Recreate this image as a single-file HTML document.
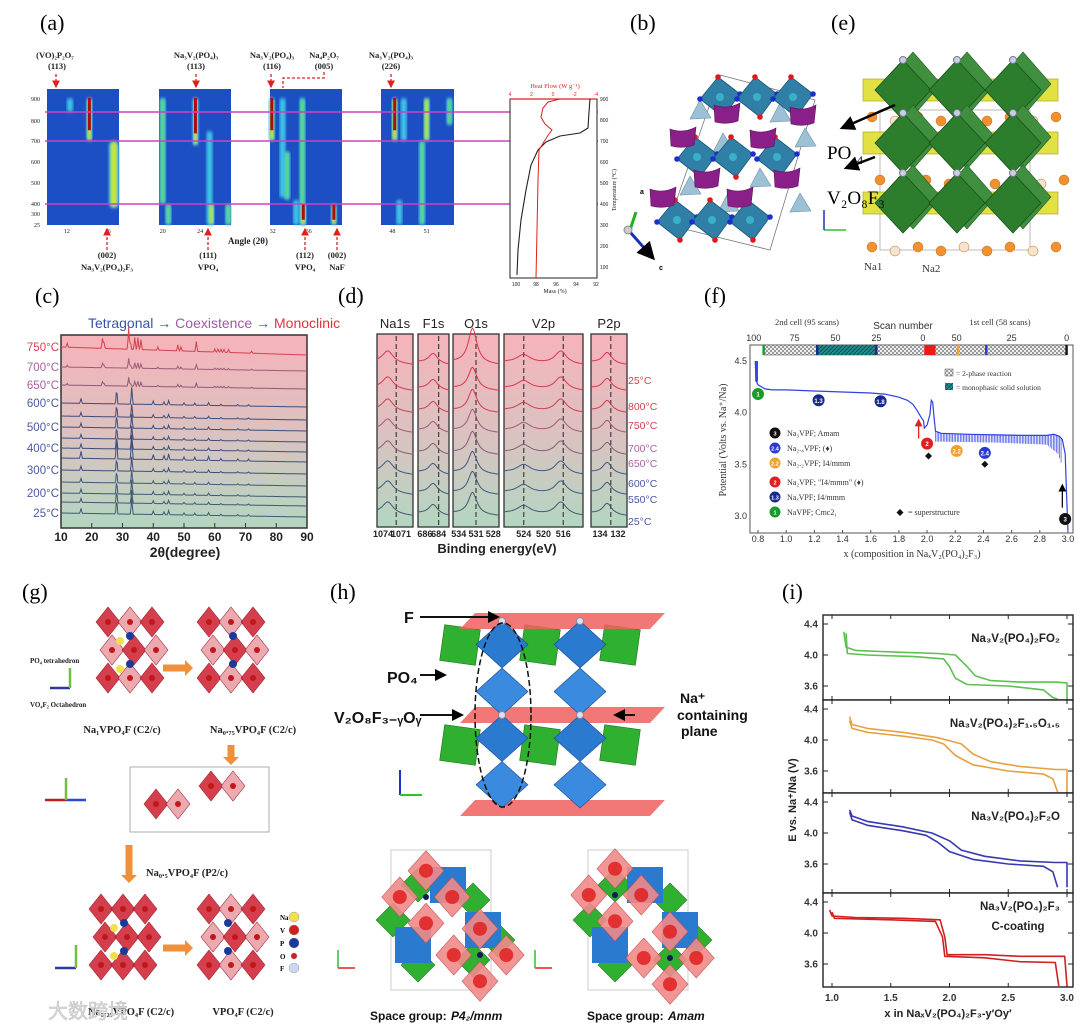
<!DOCTYPE html>
<html><head><meta charset="utf-8"><style>
html,body{margin:0;padding:0;background:#fff;}
svg{display:block;font-family:"Liberation Sans",sans-serif;}
.ser{font-family:"Liberation Serif",serif;}
</style></head><body>
<svg id="fig" width="1080" height="1027" viewBox="0 0 1080 1027" xmlns="http://www.w3.org/2000/svg">
<defs>
<linearGradient id="gcd" x1="0" y1="0" x2="0" y2="1"><stop offset="0" stop-color="#f6b3ba"/><stop offset="0.5" stop-color="#dcc1c0"/><stop offset="1" stop-color="#b3d6c1"/></linearGradient>
<filter id="blur2"><feGaussianBlur stdDeviation="1.6"/></filter>
<pattern id="chk" width="4" height="4" patternUnits="userSpaceOnUse"><rect width="4" height="4" fill="#eee"/><rect width="2" height="2" fill="#999"/><rect x="2" y="2" width="2" height="2" fill="#999"/></pattern>
<pattern id="hatch" width="4" height="4" patternUnits="userSpaceOnUse"><rect width="4" height="4" fill="#1f8a8a"/><path d="M0 4L4 0" stroke="#0b4f55" stroke-width="1"/></pattern>
<marker id="ah" markerWidth="6" markerHeight="6" refX="5" refY="3" orient="auto"><path d="M0 0L6 3L0 6z" fill="#000"/></marker>
<marker id="ahr" markerWidth="6" markerHeight="6" refX="5" refY="3" orient="auto"><path d="M0 0L6 3L0 6z" fill="#e02020"/></marker>
</defs>

<text class="ser" x="40" y="30" font-size="22">(a)</text>
<text class="ser" x="630" y="30" font-size="22">(b)</text>
<text class="ser" x="831" y="30" font-size="22">(e)</text>
<text class="ser" x="35" y="303" font-size="22">(c)</text>
<text class="ser" x="338" y="303" font-size="22">(d)</text>
<text class="ser" x="704" y="303" font-size="22">(f)</text>
<text class="ser" x="22" y="599" font-size="22">(g)</text>
<text class="ser" x="330" y="599" font-size="22">(h)</text>
<text class="ser" x="782" y="599" font-size="22">(i)</text>

<g id="pa"></g>
<g id="pb"></g>
<g id="pe"></g>
<g id="pc"></g>
<g id="pd"></g>
<g id="pf"></g>
<g id="pg"></g>
<g id="ph"></g>
<g id="pi"></g>

<g class="ser" font-size="8.5" font-weight="bold" fill="#222" text-anchor="middle">
<text x="55" y="58">(VO)₂P₂O₇</text><text x="57" y="69">(113)</text>
<text x="196" y="58">Na₃V₂(PO₄)₃</text><text x="196" y="69">(113)</text>
<text x="272" y="58">Na₃V₂(PO₄)₃</text><text x="272" y="69">(116)</text>
<text x="324" y="58">Na₄P₂O₇</text><text x="324" y="69">(005)</text>
<text x="391" y="58">Na₃V₂(PO₄)₃</text><text x="391" y="69">(226)</text>
<text x="107" y="258">(002)</text><text x="107" y="270">Na₃V₂(PO₄)₂F₃</text>
<text x="208" y="258">(111)</text><text x="208" y="270">VPO₄</text>
<text x="305" y="258">(112)</text><text x="305" y="270">VPO₄</text>
<text x="337" y="258">(002)</text><text x="337" y="270">NaF</text>
<text x="248" y="244" font-size="9">Angle (2θ)</text>
</g>

<text x="88" y="328" font-size="14" fill="#3a55a5">Tetragonal <tspan fill="#3a55a5">→</tspan> <tspan fill="#a05aa8">Coexistence</tspan> <tspan fill="#3a55a5">→</tspan> <tspan fill="#e03040">Monoclinic</tspan></text>
<text x="185" y="557" font-size="14" font-weight="bold" text-anchor="middle" fill="#222">2θ(degree)</text>
<text x="497" y="553" font-size="13" font-weight="bold" text-anchor="middle" fill="#222">Binding energy(eV)</text>

<text x="48" y="1018" font-size="20" fill="#ddd" stroke="#bbb" stroke-width="0.5" font-family="'Liberation Sans','Noto Sans CJK SC',sans-serif">大数跨境</text>
</svg>

<script>
var NS='http://www.w3.org/2000/svg';
function mk(tag, at, par){var e=document.createElementNS(NS,tag);for(var k in at)e.setAttribute(k,at[k]);par.appendChild(e);return e;}
function tx(s,x,y,at,par){var e=mk('text',Object.assign({x:x,y:y},at||{}),par);e.textContent=s;return e;}
function G(id){return document.getElementById(id);}

/* ================= (a) heatmaps ================= */
var aTempLabels=[900,800,700,600,500,400,300,25];
var aTempPix=[99,121,141,162,183,204,214,225];
var aPanels=[[47,119,10.05,17.1],[159,231,19.6,27.3],[270,342,31.7,39.7],[381,454,47,53.4]];
var aTicks=[[12,16],[20,24],[32,36],[48,51]];
var aStreakPanel=[0,0,0,1,1,1,1,1,1,2,2,2,2,2,2,2,3,3,3,3,3,3];
var aStreakAngle=[12.3,14.2,16.6,20.0,20.6,23.5,25.0,25.2,27.0,31.9,33.1,33.6,35.3,35.4,38.8,34.6,48.2,49.0,51.0,53.0,50.6,48.6];
var aStreakTmin=[840,700,360,400,25,680,25,25,25,700,430,420,25,25,25,25,700,700,700,780,25,25];
var aStreakTmax=[950,950,700,950,400,950,750,400,400,950,950,650,950,400,400,420,950,950,950,950,700,420];
var aStreakLevel=[0,3,2,1,1,3,0,2,1,3,0,1,1,3,3,0,3,0,2,1,1,0];
function aY(t){for(var i=0;i<aTempLabels.length-1;i++){var a=aTempLabels[i],b=aTempLabels[i+1];if(t<=a&&t>=b)return aTempPix[i]+(a-t)/(a-b)*(aTempPix[i+1]-aTempPix[i]);}return t>900?aTempPix[0]-(t-900)/1000*21:225;}
function aX(p,ang){var P=aPanels[p];return P[0]+(ang-P[2])/(P[3]-P[2])*(P[1]-P[0]);}
(function(){
var g=G('pa');
aPanels.forEach(function(P,i){
 var r=mk('rect',{x:P[0],y:89,width:P[1]-P[0],height:136,fill:'#1d4fc4'},g);
 
 
 aTicks[i].forEach(function(t){var l=tx(String(t),aX(i,t),233,{'font-size':6,'text-anchor':'middle',fill:'#222','class':'ser'},g);
 
 });
});
aStreakAngle.forEach(function(a,i){
 var p=aStreakPanel[i],x=aX(p,a),y1=Math.max(89,aY(aStreakTmax[i])),y2=Math.min(225,aY(aStreakTmin[i]));
 var lv=aStreakLevel[i];
 var w=lv===2&&p===0?10:6;
 var s=mk('rect',{x:x-w/2,y:y1,width:w,height:y2-y1,rx:w/2,fill:'#3fc8e8',filter:'url(#blur2)'},g);
 
 
 if(lv>=1){var s2=mk('rect',{x:x-w/3,y:y1+1,width:w*2/3,height:y2-y1-2,rx:w/3,fill:lv>=2?'#c8e838':'#5ed880',filter:'url(#blur2)'},g);
  
  }
 if(lv===3){var s3=mk('rect',{x:x-1.5,y:y1,width:3,height:(y2-y1)*0.75,fill:'#b00c0c'},g);
  
  }
});
aTempLabels.forEach(function(t,i){var l=tx(String(t),40,aTempPix[i]+2,{'font-size':6,'text-anchor':'end',fill:'#222','class':'ser'},g);
 
 });
[112,141,204].forEach(function(y){var l=mk('line',{x1:45,y1:y,x2:598,y2:y,stroke:'#d040c0','stroke-width':1.6},g);
 
 });
[[56,74,87],[196,74,87],[271,74,87],[391,74,87]].forEach(function(a){var l=mk('line',{x1:a[0],y1:a[1],x2:a[0],y2:a[2],stroke:'#e02020','stroke-width':1.3,'stroke-dasharray':'3,2','marker-end':'url(#ahr)'},g);
 
 });
[[107,250,229],[208,250,229],[305,250,229],[337,250,229]].forEach(function(a){var l=mk('line',{x1:a[0],y1:a[1],x2:a[0],y2:a[2],stroke:'#e02020','stroke-width':1.3,'stroke-dasharray':'3,2','marker-end':'url(#ahr)'},g);
 
 });
var pl=mk('polyline',{points:'324,72 324,78 283,78 283,88',fill:'none',stroke:'#e02020','stroke-width':1.3,'stroke-dasharray':'3,2'},g);


var b=mk('rect',{x:510,y:99,width:87,height:179,fill:'#fff',stroke:'#222','stroke-width':1},g);


var tp=mk('line',{x1:510,y1:99,x2:597,y2:99,stroke:'#e02020','stroke-width':1.2},g);


var t1=tx('Heat Flow (W g⁻¹)',555,88,{'font-size':6.5,'text-anchor':'middle',fill:'#e02020','class':'ser'},g);


['4','2','0','-2','-4'].forEach(function(s,i){var l=tx(s,510+i*21.5,96,{'font-size':5,'text-anchor':'middle',fill:'#e02020'},g);
 
 });
['100','98','96','94','92'].forEach(function(s,i){var l=tx(s,516+i*20,286,{'font-size':5,'text-anchor':'middle',fill:'#222'},g);
 
 });
var t2=tx('Mass (%)',555,293,{'font-size':6,'text-anchor':'middle',fill:'#222','class':'ser'},g);


[900,800,700,600,500,400,300,200,100].forEach(function(s,i){var l=tx(String(s),600,101+i*21,{'font-size':5,fill:'#222'},g);
 
 });
var t3=tx('Temperature (°C)',616,190,{'font-size':6,'text-anchor':'middle',fill:'#222',transform:'rotate(-90 616 190)','class':'ser'},g);


var bk=mk('polyline',{points:'517,275 518,250 521,220 526,190 531,165 538,150 546,142 560,136 580,133 588,128 589,112 590,99',fill:'none',stroke:'#222','stroke-width':1.1},g);


var rd=mk('polyline',{points:'536,278 537,230 538,180 539,150 545,140 549,134 552,130 545,124 541,117 543,108 548,102 560,99',fill:'none',stroke:'#e02020','stroke-width':1},g);


})();

/* ================= (b) structure ================= */
(function(){
var g=G('pb');
var oct=[[720,97],[757,97],[793,97],[697,157],[733,157],[777,157],[677,220],[712,220],[750,220]];
var purp=[[727,113],[803,115],[683,137],[763,138],[707,178],[787,178],[663,197],[740,197]];
var tet=[[700,112],[780,115],[723,145],[805,140],[690,188],[760,180],[728,205],[800,205]];
var cell=mk('polygon',{points:'720,75 815,100 770,250 668,225',fill:'none',stroke:'#778','stroke-width':0.8},g);


tet.forEach(function(p){var e=mk('polygon',{points:(p[0])+','+(p[1]-12)+' '+(p[0]+11)+','+(p[1]+6)+' '+(p[0]-10)+','+(p[1]+7),fill:'#9cc0d4',stroke:'#6a90aa','stroke-width':0.6},g);
 
 });
oct.forEach(function(p){var e=mk('polygon',{points:(p[0]-2)+','+(p[1]-20)+' '+(p[0]+20)+','+(p[1]-3)+' '+(p[0]+3)+','+(p[1]+20)+' '+(p[0]-20)+','+(p[1]+2),fill:'#2f7fa6',stroke:'#1d5877','stroke-width':0.8},g);
 
 
 var c=mk('circle',{cx:p[0],cy:p[1],r:4,fill:'#3ab0c8'},g);
 
 
 [[-2,-20],[20,-3],[3,20],[-20,2]].forEach(function(d,j){var o=mk('circle',{cx:p[0]+d[0],cy:p[1]+d[1],r:2.8,fill:j%2?'#1a2fd0':'#e01818'},g);
  
  });
});
purp.forEach(function(p){var e=mk('path',{d:'M'+(p[0]-13)+' '+(p[1]-8)+' Q'+p[0]+' '+(p[1]-3)+' '+(p[0]+13)+' '+(p[1]-10)+' L'+(p[0]+11)+' '+(p[1]+8)+' Q'+p[0]+' '+(p[1]+12)+' '+(p[0]-12)+' '+(p[1]+9)+'Z',fill:'#8a1f8a',stroke:'#5a105a','stroke-width':0.6},g);
 
 });
var ax1=mk('line',{x1:630,y1:232,x2:653,y2:258,stroke:'#1a2fc0','stroke-width':3,'marker-end':'url(#ah)'},g);


var ax2=mk('line',{x1:630,y1:230,x2:636,y2:212,stroke:'#20b020','stroke-width':3},g);


var ax0=mk('circle',{cx:628,cy:230,r:4,fill:'#ccc',stroke:'#888'},g);


var la=tx('a',640,194,{'font-size':7,'font-weight':'bold'},g);


var lc=tx('c',659,270,{'font-size':7,'font-weight':'bold'},g);


})();

/* ================= (e) structure ================= */
(function(){
var g=G('pe');
var cx=[903,957,1013],cy=[90,143,203],yx=[876,930,985,1045];
var box=mk('rect',{x:880,y:110,width:150,height:140,fill:'none',stroke:'#aaa','stroke-width':0.8},g);


[117,180,247].forEach(function(y,r){for(var i=0;i<9;i++){var x=872+i*23+(r%2)*8;var s=mk('circle',{cx:x,cy:y+(i%2)*4,r:5,fill:i%3==1?'#f4e4d0':'#f09030',stroke:'#c86810','stroke-width':0.5},g);
 
 }});
cy.forEach(function(y){yx.forEach(function(x){var e=mk('rect',{x:x-13,y:y-11,width:26,height:22,fill:'#dede30',stroke:'#a0a010','stroke-width':0.7,opacity:0.9},g);
 
 });});
cy.forEach(function(y){cx.forEach(function(x){
 var b=mk('polygon',{points:(x+10)+','+(y-38)+' '+(x+38)+','+(y-6)+' '+(x+10)+','+(y+26)+' '+(x-18)+','+(y-6),fill:'#3f8f3f',stroke:'#2a602a','stroke-width':0.6},g);
 
 
 var e=mk('polygon',{points:x+','+(y-30)+' '+(x+28)+','+y+' '+x+','+(y+30)+' '+(x-28)+','+y,fill:'#2c7d2c',stroke:'#1b4f1b','stroke-width':0.8},g);
 
 
 var f=mk('circle',{cx:x,cy:y-30,r:3.5,fill:'#c8d0e8',stroke:'#778'},g);
 
 });});
var a1=mk('line',{x1:895,y1:105,x2:842,y2:128,stroke:'#000','stroke-width':2.5,'marker-end':'url(#ah)'},g);


var a2=mk('line',{x1:875,y1:157,x2:846,y2:168,stroke:'#000','stroke-width':2.5,'marker-end':'url(#ah)'},g);


var t1=tx('PO',827,159,{'font-size':19,'class':'ser'},g);


var t1b=tx('4',857,164,{'font-size':12,'class':'ser'},g);


var t2=tx('V₂O₈F₃',827,204,{'font-size':19,'class':'ser'},g);


var n1=tx('Na1',864,270,{'font-size':11,'class':'ser',fill:'#333'},g);


var n2=tx('Na2',922,272,{'font-size':11,'class':'ser',fill:'#333'},g);


var ab=mk('line',{x1:824,y1:230,x2:846,y2:230,stroke:'#30c030','stroke-width':1.5},g);


var ac=mk('line',{x1:824,y1:230,x2:824,y2:210,stroke:'#2030c0','stroke-width':1.5},g);


})();

/* ================= (c) XRD ================= */
var cTemps=['750°C','700°C','650°C','600°C','','500°C','','400°C','','300°C','','200°C','','25°C'];
var cRowType=['m','m','m','t','t','t','t','t','t','t','t','t','t','t'];
var cTickLabels=[10,20,30,40,50,60,70,80,90];
var cMonoPeaks=[12,23.5,24,32,32.6,34,35,36,41.5,48,49,54,60,61,62,63,64.5,72];
var cMonoInt=[4,10,6,22,8,12,12,10,3,6,4,10,3,3,3,3,3,2];
var cTetPeaks=[16.5,28.1,33.0,40,43.5,45,50,53.5,58,62,67.5,71];
var cTetInt=[7,22,24,5,4,6,3,3,4,2,2,2];
var cRowScale=[1,0.45,0.4,0.7,0.55,0.6,0.55,0.6,1.0,0.6,0.55,0.6,0.55,0.7];
var cBaseY=[347,367,385,403,416,427,438,448,458,470,482,493,502,513];
var cColors=['#d8404f','#a05a78','#8c5a78','#3d4d7a','#3d4d7a','#3d4d7a','#3d4d7a','#3d4d7a','#3d4d7a','#3d4d7a','#3d5a7a','#3d5a70','#3d5a70','#3d5a70'];
function cX(t){return 61+(t-10)/80*246;}
(function(){
var g=G('pc');
var bg=mk('rect',{x:61,y:335,width:246,height:193,fill:'url(#gcd)',stroke:'#333','stroke-width':1.5},g);


cBaseY.forEach(function(by,r){
 var pk=cRowType[r]==='m'?cMonoPeaks:cTetPeaks, it=cRowType[r]==='m'?cMonoInt:cTetInt;
 var pts=[];
 for(var t=10;t<=90;t+=0.25){var y=by+(t-10)/80*(r===0?8:4);
  pk.forEach(function(p,k){var d=Math.abs(t-p);if(d<0.4)y-=it[k]*cRowScale[r]*(1-d/0.4);});
  pts.push(cX(t).toFixed(1)+','+y.toFixed(1));}
 var l=mk('polyline',{points:pts.join(' '),fill:'none',stroke:cColors[r],'stroke-width':1},g);
 
 
 if(cTemps[r]){var lb=tx(cTemps[r],59,cBaseY[r]+4,{'font-size':11.5,'text-anchor':'end',fill:r===0?'#d84050':r<3?'#a860a0':'#4a5aa0'},g);
  
  }
});
cTickLabels.forEach(function(v){var x=cX(v);
 var tk=mk('line',{x1:x,y1:528,x2:x,y2:523,stroke:'#333'},g);
 
 
 var l=tx(String(v),x,541,{'font-size':12,'font-weight':'bold','text-anchor':'middle',fill:'#222'},g);
 
 });
})();

/* ================= (d) XPS ================= */
var dPanelNames=['Na1s','F1s','O1s','V2p','P2p'];
var dPanelX=[[377,413],[418,449],[453,499],[504,583],[591,627]];
var dPanelE=[[1075,1069],[687,682.5],[535,527],[528,512],[135,131]];
var dPeakE=[[1073.2],[684.8],[531.6],[524,516.5],[133.2]];
var dPeakW=[[1.1],[0.8],[0.9],[1.6,1.4],[0.6]];
var dPeakH=[[12],[10],[22],[8,13],[11]];
var dDash=[[1071.8],[684],[531],[524,516],[132.8]];
var dTickLabels=[['1074','1071'],['686','684'],['534','531','528'],['524','520','516'],['134','132']];
var dTickE=[[1074,1071],[686,684],[534,531,528],[524,520,516],[134,132]];
var dTemps=['25°C','800°C','750°C','700°C','650°C','600°C','550°C','25°C'];
var dTempY=[380,406,425,448,463,483,499,521];
var dBaseY=[362,388,410,430,452,472,492,513];
var dColors=['#d83848','#d83848','#c84050','#a05a78','#8a5a78','#3d5a80','#3d5a7a','#3d5a70'];
var dLabelColors=['#d84050','#d84050','#d84050','#b060a8','#b060a8','#4a5aa0','#4a5aa0','#4a5aa0'];
(function(){
var g=G('pd');
dPanelX.forEach(function(P,i){
 var E=dPanelE[i];function ex(e){return P[0]+(E[0]-e)/(E[0]-E[1])*(P[1]-P[0]);}
 var bg=mk('rect',{x:P[0],y:334,width:P[1]-P[0],height:193,fill:'url(#gcd)',stroke:'#333','stroke-width':1.3},g);
 
 
 var tl=tx(dPanelNames[i],(P[0]+P[1])/2,328,{'font-size':13,'text-anchor':'middle',fill:'#222'},g);
 
 
 dDash[i].forEach(function(e){var l=mk('line',{x1:ex(e),y1:336,x2:ex(e),y2:525,stroke:'#333','stroke-width':1.1,'stroke-dasharray':'5,3'},g);
  
  });
 dBaseY.forEach(function(by,r){
  var pts=[];
  for(var s=0;s<=40;s++){var e=E[0]+(E[1]-E[0])*s/40;var y=by+(s/40)*3;
   dPeakE[i].forEach(function(pe,k){var d=(e-pe)/dPeakW[i][k];y-=dPeakH[i][k]*(i===2&&r===0?1.6:1)/(1+d*d);});
   pts.push(ex(e).toFixed(1)+','+y.toFixed(1));}
  var l=mk('polyline',{points:pts.join(' '),fill:'none',stroke:dColors[r],'stroke-width':1},g);
  
  });
 dTickE[i].forEach(function(e,k){var l=tx(dTickLabels[i][k],ex(e),537,{'font-size':9,'font-weight':'bold','text-anchor':'middle',fill:'#222'},g);
  
  });
});
dTemps.forEach(function(t,r){var l=tx(t,628,dTempY[r]+4,{'font-size':10.5,fill:dLabelColors[r]},g);
 
 });
})();

/* ================= (f) potential ================= */
var fX=[0.78,0.785,0.79,0.80,0.85,0.9,1.0,1.2,1.4,1.6,1.7,1.8,1.86,1.9,1.93,1.96,1.975,1.98,2.0,2.02,2.03,2.04,2.05,2.06,2.1,2.3,2.5,2.7,2.85,2.9,2.94,2.96,2.98,2.99,3.0];
var fV=[4.5,4.35,4.3,4.27,4.23,4.22,4.22,4.21,4.2,4.19,4.18,4.15,4.12,4.08,4.02,3.95,3.92,3.85,3.88,3.98,4.12,4.1,3.95,3.82,3.8,3.79,3.785,3.78,3.78,3.79,3.77,3.74,3.6,3.2,2.85];
var fRelaxX=[2.06,2.5,2.85,2.93,2.96];
var fRelaxV=[3.72,3.71,3.69,3.6,3.48];
var fXTicks=[0.8,1.0,1.2,1.4,1.6,1.8,2.0,2.2,2.4,2.6,2.8,3.0];
var fYTicks=[3.0,3.5,4.0,4.5];
var fScanLabels=['100','75','50','25','0','50','25','0'];
var fScanX=[0.77,1.06,1.35,1.64,1.97,2.21,2.6,2.99];
var fMarkerX=[0.8,1.23,1.67,2.0,2.21,2.41,2.98];
var fMarkerV=[4.18,4.12,4.11,3.7,3.63,3.61,2.97];
var fMarkerText=['1','1.3','1.8','2','2.2','2.4','3'];
var fMarkerColor=['#1a9a2a','#1a2a8a','#1a2a8a','#e02020','#f0a030','#2a3ad0','#111'];
var fDiamondX=[2.01,2.41];
var fDiamondV=[3.58,3.5];
function fpx(x){return 758+(x-0.8)*140.9;}
function fpy(v){return 361+(4.5-v)*103.3;}
(function(){
var g=G('pf');
var box=mk('rect',{x:750,y:345,width:323,height:188,fill:'#fff',stroke:'#555','stroke-width':1},g);


var bar=mk('rect',{x:fpx(0.84),y:345,width:fpx(2.99)-fpx(0.84),height:10,fill:'url(#chk)',stroke:'#555','stroke-width':0.6},g);


var teal=mk('rect',{x:fpx(1.22),y:345,width:fpx(1.64)-fpx(1.22),height:10,fill:'url(#hatch)'},g);


var red=mk('rect',{x:fpx(1.98),y:345,width:fpx(2.06)-fpx(1.98),height:10,fill:'#ee1a1a'},g);


[[0.84,'#1a9a2a'],[1.22,'#1a2a8a'],[1.64,'#1a2a8a'],[2.22,'#f0a030'],[2.42,'#2a3ad0'],[2.99,'#111']].forEach(function(m){var r=mk('rect',{x:fpx(m[0])-1.2,y:345,width:2.4,height:10,fill:m[1]},g);
 
 });
for(var x=2.06;x<=2.955;x+=0.011){var v0=3.78,vb=3.72;
 for(var i=0;i<fX.length-1;i++)if(x>=fX[i]&&x<=fX[i+1])v0=fV[i]+(fV[i+1]-fV[i])*(x-fX[i])/(fX[i+1]-fX[i]);
 for(var j=0;j<fRelaxX.length-1;j++)if(x>=fRelaxX[j]&&x<=fRelaxX[j+1])vb=fRelaxV[j]+(fRelaxV[j+1]-fRelaxV[j])*(x-fRelaxX[j])/(fRelaxX[j+1]-fRelaxX[j]);
 var l=mk('line',{x1:fpx(x),y1:fpy(v0),x2:fpx(x),y2:fpy(vb),stroke:'#3a4ae0','stroke-width':0.7},g);
 
 }
var spk=mk('rect',{x:fpx(0.78),y:fpy(4.5),width:fpx(0.80)-fpx(0.78),height:fpy(4.3)-fpy(4.5),fill:'#3a4ae0'},g);


var pts=fX.map(function(x,i){return fpx(x).toFixed(1)+','+fpy(fV[i]).toFixed(1);}).join(' ');
var c=mk('polyline',{points:pts,fill:'none',stroke:'#3040e0','stroke-width':1.2},g);


fXTicks.forEach(function(v){var l=tx(v.toFixed(1),fpx(v),542,{'font-size':9,'text-anchor':'middle',fill:'#333'},g);
 
 
 var t=mk('line',{x1:fpx(v),y1:533,x2:fpx(v),y2:530,stroke:'#555'},g);
 
 });
fYTicks.forEach(function(v){var l=tx(v.toFixed(1),747,fpy(v)+3,{'font-size':9,'text-anchor':'end',fill:'#333'},g);
 
 });
fScanLabels.forEach(function(s,i){var l=tx(s,fpx(fScanX[i]),341,{'font-size':9,'text-anchor':'middle',fill:'#333'},g);
 
 });
var sn=tx('Scan number',903,329,{'font-size':10,'text-anchor':'middle',fill:'#333'},g);


var c2=tx('2nd cell (95 scans)',807,325,{'font-size':8.5,'text-anchor':'middle',fill:'#333','class':'ser'},g);


var c1=tx('1st cell (58 scans)',1000,325,{'font-size':8.5,'text-anchor':'middle',fill:'#333','class':'ser'},g);


fMarkerX.forEach(function(x,i){var cc=mk('circle',{cx:fpx(x),cy:fpy(fMarkerV[i]),r:6,fill:fMarkerColor[i]},g);
 
 
 var t=tx(fMarkerText[i],fpx(x),fpy(fMarkerV[i])+2.5,{'font-size':6,'text-anchor':'middle',fill:'#fff','font-weight':'bold'},g);
 
 });
fDiamondX.forEach(function(x,i){var X=fpx(x),Y=fpy(fDiamondV[i]);var d=mk('polygon',{points:X+','+(Y-3.5)+' '+(X+3.5)+','+Y+' '+X+','+(Y+3.5)+' '+(X-3.5)+','+Y,fill:'#111'},g);
 
 });
var ar=mk('line',{x1:fpx(1.94),y1:fpy(3.75),x2:fpx(1.94),y2:fpy(3.93),stroke:'#e02020','stroke-width':1.3,'marker-end':'url(#ahr)'},g);


var ab=mk('line',{x1:fpx(2.96),y1:fpy(3.08),x2:fpx(2.96),y2:fpy(3.3),stroke:'#111','stroke-width':1.3,'marker-end':'url(#ah)'},g);


var lg1=mk('rect',{x:945,y:369,width:8,height:7,fill:'url(#chk)',stroke:'#555','stroke-width':0.5},g);


var lt1=tx('= 2-phase reaction',956,376,{'font-size':7.5,fill:'#333','class':'ser'},g);


var lg2=mk('rect',{x:945,y:383,width:8,height:7,fill:'url(#hatch)'},g);


var lt2=tx('= monophasic solid solution',956,390,{'font-size':7.5,fill:'#333','class':'ser'},g);


var legT=['Na₃VPF; Amam','Na₂.₄VPF; (♦)','Na₂.₂VPF; I4/mmm','Na₂VPF; "I4/mmm" (♦)','NaₓVPF; I4/mmm','NaVPF; Cmc2₁'];
var legC=['#111','#2a3ad0','#f0a030','#e02020','#1a2a8a','#1a9a2a'];
var legN=['3','2.4','2.2','2','1.3','1'];
var legY=[433,448,463,482,497,512];
legT.forEach(function(s,i){var cc=mk('circle',{cx:775,cy:legY[i],r:5.5,fill:legC[i]},g);
 
 
 var n=tx(legN[i],775,legY[i]+2.3,{'font-size':5.5,'text-anchor':'middle',fill:'#fff','font-weight':'bold'},g);
 
 
 var t=tx(s,787,legY[i]+3,{'font-size':8,fill:'#333','class':'ser'},g);
 
 });
var sd=mk('polygon',{points:'900,509 903.5,512.5 900,516 896.5,512.5',fill:'#111'},g);


var st=tx('= superstructure',908,515,{'font-size':8,fill:'#333','class':'ser'},g);


var xt=tx('x (composition in NaₓV₂(PO₄)₂F₃)',912,557,{'font-size':10,'text-anchor':'middle',fill:'#333','class':'ser'},g);


var yt=tx('Potential (Volts vs. Na⁺/Na)',726,440,{'font-size':10,'text-anchor':'middle',fill:'#333','class':'ser',transform:'rotate(-90 726 440)'},g);


})();

/* ================= (i) charge curves ================= */
var iNames=['Na₃V₂(PO₄)₂FO₂','Na₃V₂(PO₄)₂F₁.₅O₁.₅','Na₃V₂(PO₄)₂F₂O','Na₃V₂(PO₄)₂F₃'];
var iColors=['#5cc050','#e8a040','#3838b0','#d02020'];
var iTops=[615,700,793,893];
var iUpX=[[1.1,1.12,1.2,1.5,1.9,2.05,2.15,2.22,2.35,2.6,2.9,3.0,3.0],[1.15,1.17,1.3,1.6,1.9,2.1,2.2,2.35,2.6,2.9,3.0,3.0],[1.15,1.17,1.3,1.6,1.85,2.0,2.1,2.3,2.6,2.9,3.0,3.0],[0.98,1.0,1.2,1.6,1.92,1.96,1.98,2.3,2.6,2.98,3.0]];
var iUpV=[[4.3,4.1,4.06,4.04,4.02,4.0,3.85,3.73,3.67,3.65,3.65,3.64,3.3],[4.3,4.2,4.15,4.1,4.03,3.95,3.82,3.72,3.66,3.62,3.62,3.3],[4.3,4.22,4.15,4.08,4.0,3.9,3.78,3.7,3.64,3.62,3.62,3.3],[4.3,4.22,4.2,4.19,4.17,3.95,3.72,3.72,3.7,3.7,3.3]];
var iLoX=[[1.12,1.13,1.3,1.7,1.95,2.0,2.05,2.15,2.5,2.8,2.88,2.92],[1.15,1.17,1.3,1.6,1.85,1.95,2.05,2.2,2.5,2.8,2.88,2.92],[1.15,1.17,1.3,1.6,1.8,1.9,2.0,2.2,2.5,2.8,2.88,2.92],[1.0,1.02,1.5,1.88,1.94,1.96,2.3,2.6,2.9,2.93]];
var iLoV=[[4.28,4.02,4.0,3.98,3.95,3.85,3.7,3.62,3.6,3.55,3.45,3.3],[4.25,4.15,4.1,4.05,4.0,3.95,3.8,3.68,3.6,3.56,3.5,3.3],[4.27,4.17,4.1,4.03,3.97,3.88,3.76,3.66,3.6,3.57,3.5,3.3],[4.27,4.19,4.17,4.15,3.95,3.7,3.68,3.63,3.62,3.3]];
var iYTicks=[4.4,4.0,3.6];
var iXTicks=[1.0,1.5,2.0,2.5,3.0];
function ipx(x){return 832+(x-1)*117.5;}
function ipy(p,v){return iTops[p]+9+(4.4-v)*77.5;}
(function(){
var g=G('pi');
iTops.forEach(function(t,p){
 var h=(p<3?iTops[p+1]:987)-t;
 var r=mk('rect',{x:823,y:t,width:250,height:h,fill:'#fff',stroke:'#222','stroke-width':1.4},g);
 
 
 iXTicks.forEach(function(v){var a=mk('line',{x1:ipx(v),y1:t,x2:ipx(v),y2:t+4,stroke:'#222'},g);
  
  
  var b=mk('line',{x1:ipx(v),y1:t+h,x2:ipx(v),y2:t+h-4,stroke:'#222'},g);
  
  });
 iYTicks.forEach(function(v){var y=ipy(p,v);
  var a=mk('line',{x1:823,y1:y,x2:828,y2:y,stroke:'#222'},g);
  
  
  var b=mk('line',{x1:1073,y1:y,x2:1068,y2:y,stroke:'#222'},g);
  
  
  var l=tx(v.toFixed(1),818,y+3.5,{'font-size':10,'font-weight':'bold','text-anchor':'end',fill:'#333'},g);
  
  });
 [[iUpX[p],iUpV[p]],[iLoX[p],iLoV[p]]].forEach(function(s,k){
  var pts=s[0].map(function(x,i){return ipx(x).toFixed(1)+','+Math.min(ipy(p,s[1][i]),t+h-1).toFixed(1);}).join(' ');
  var c=mk('polyline',{points:pts,fill:'none',stroke:iColors[p],'stroke-width':1.6,'stroke-linejoin':'round'},g);
  
  });
 var n=tx(iNames[p],1060,p===3?t+17:t+27,{'font-size':11.5,'font-weight':'bold','text-anchor':'end',fill:'#222'},g);
 
 
});
var cc=tx('C-coating',1018,930,{'font-size':11.5,'font-weight':'bold','text-anchor':'middle',fill:'#222'},g);


iXTicks.forEach(function(v){var l=tx(v.toFixed(1),ipx(v),1001,{'font-size':10,'font-weight':'bold','text-anchor':'middle',fill:'#333'},g);
 
 });
var xt=tx('x in NaₓV₂(PO₄)₂F₃-y′Oy′',948,1017,{'font-size':11,'font-weight':'bold','text-anchor':'middle',fill:'#222'},g);


var yt=tx('E vs. Na⁺/Na (V)',796,800,{'font-size':11,'font-weight':'bold','text-anchor':'middle',fill:'#222',transform:'rotate(-90 796 800)'},g);


})();

/* ================= (g) structures ================= */
function cluster(g,x0,y0,w,h,light,withNa){
 var cols=Math.round(w/22),rows=Math.round(h/28);
 for(var r=0;r<rows;r++)for(var c=0;c<cols;c++){
  var x=x0+c*22+11+(r%2)*4,y=y0+r*28+14;
  var d=mk('polygon',{points:x+','+(y-15)+' '+(x+12)+','+y+' '+x+','+(y+15)+' '+(x-12)+','+y,fill:(r+c)%2&&light?'#eca0a8':'#d02a3a',stroke:'#901020','stroke-width':0.6,opacity:0.9},g);
  
  
  var a=mk('circle',{cx:x,cy:y,r:3,fill:'#c01818'},g);
  
  
 }
 for(var r2=1;r2<rows;r2++){var p=mk('circle',{cx:x0+w/2,cy:y0+r2*28,r:4,fill:'#1a3a9a'},g);
  
  
  if(withNa){var n=mk('circle',{cx:x0+w/2-10,cy:y0+r2*28+5,r:4,fill:'#f0e050'},g);
   
   }}
}
function oarrow(g,x1,y1,x2,y2){var l=mk('line',{x1:x1,y1:y1,x2:x2,y2:y2,stroke:'#f0903a','stroke-width':7},g);
 
 
 var dx=x2-x1,dy=y2-y1,L=Math.sqrt(dx*dx+dy*dy),ux=dx/L,uy=dy/L;
 var h=mk('polygon',{points:(x2+ux*8)+','+(y2+uy*8)+' '+(x2-uy*8)+','+(y2+ux*8)+' '+(x2+uy*8)+','+(y2-ux*8),fill:'#f0903a'},g);
 
 }
(function(){
var g=G('pg');
cluster(g,97,608,66,86,true,true);
cluster(g,198,608,70,86,true,false);
oarrow(g,163,668,185,668);
var box=mk('rect',{x:130,y:767,width:139,height:65,fill:'#fff',stroke:'#999','stroke-width':0.8},g);


cluster(g,145,790,44,30,true,true);
cluster(g,200,772,44,30,true,true);
oarrow(g,231,745,231,757);
oarrow(g,129,845,129,875);
cluster(g,90,895,68,92,false,true);
cluster(g,198,895,60,92,true,false);
oarrow(g,163,948,185,948);
var T=[['PO₄ tetrahedron',30,663,7],['VO₄F₂ Octahedron',30,707,7],['Na₁VPO₄F (C2/c)',122,733,10.5],['Na₀.₇₅VPO₄F (C2/c)',253,733,10.5],['Na₀.₅VPO₄F (P2/c)',146,876,10.5],['Na₀.₂₅VPO₄F (C2/c)',131,1015,10.5],['VPO₄F (C2/c)',243,1015,10.5]];
T.forEach(function(t,i){var e=tx(t[0],t[1],t[2],{'font-size':t[3],'font-weight':'bold','class':'ser','text-anchor':(i<2||i==4)?'start':'middle',fill:'#222'},g);
 
 });
var LN=['Na','V','P','O','F'],LC=['#f0e050','#d02020','#1a3a9a','#d02020','#c8d8f0'],LY=[917,930,943,956,968];
LN.forEach(function(n,i){var c=mk('circle',{cx:294,cy:LY[i],r:i==3?3:5,fill:LC[i],stroke:'#888','stroke-width':0.4},g);
 
 
 var t=tx(n,280,LY[i]+3,{'font-size':7,'class':'ser','font-weight':'bold'},g);
 
 });
[[70,688,50,688,'#2a3aa0'],[70,688,70,668,'#70c040'],[66,800,45,800,'#c02020'],[66,800,86,800,'#2a4ad0'],[66,800,66,778,'#70c040'],[76,968,55,968,'#2a3aa0'],[76,968,76,945,'#70c040']].forEach(function(a){var l=mk('line',{x1:a[0],y1:a[1],x2:a[2],y2:a[3],stroke:a[4],'stroke-width':2.5},g);
 
 });
})();

/* ================= (h) structures ================= */
(function(){
var g=G('ph');
var planes=[613,707,800];
var octX=[502,580];
function plane(y){var p=mk('polygon',{points:'460,'+(y+16)+' 650,'+(y+16)+' 665,'+y+' 475,'+y,fill:'#f06060',opacity:0.85},g);
 
 }
[[460,645],[540,645],[620,645],[460,745],[540,745],[620,745]].forEach(function(c){var r=mk('rect',{x:c[0]-18,y:c[1]-18,width:36,height:36,fill:'#30b030',stroke:'#1a701a','stroke-width':0.6,transform:'rotate(8 '+c[0]+' '+c[1]+')'},g);
 
 });
planes.forEach(function(y){plane(y);});
[0,1].forEach(function(k){var top=planes[k]+8,bot=planes[k+1]+8;octX.forEach(function(x){var mid=(top+bot)/2;
 var d1=mk('polygon',{points:x+','+top+' '+(x+26)+','+((top+mid)/2)+' '+x+','+mid+' '+(x-26)+','+((top+mid)/2),fill:'#2a7ad0',stroke:'#1a4a90','stroke-width':0.6},g);
 
 
 var d2=mk('polygon',{points:x+','+mid+' '+(x+26)+','+((bot+mid)/2)+' '+x+','+bot+' '+(x-26)+','+((bot+mid)/2),fill:'#3a8ae0',stroke:'#1a4a90','stroke-width':0.6},g);
 
 
 var f=mk('circle',{cx:x,cy:top,r:3.5,fill:'#dde',stroke:'#889'},g);
 
 });});
var el=mk('ellipse',{cx:503,cy:715,rx:28,ry:92,fill:'none',stroke:'#111','stroke-width':1.5,'stroke-dasharray':'6,3'},g);


var arrs=[[420,617,498,617],[420,675,445,675],[420,715,462,715],[635,715,615,715]];
arrs.forEach(function(a){var l=mk('line',{x1:a[0],y1:a[1],x2:a[2],y2:a[3],stroke:'#111','stroke-width':2,'marker-end':'url(#ah)'},g);
 
 });
var L=[['F',404,623,16],['PO₄',387,683,16],['V₂O₈F₃₋ᵧOᵧ',334,723,16],['Na⁺',680,703,14],['containing',677,720,14],['plane',681,736,14]];
L.forEach(function(t){var e=tx(t[0],t[1],t[2],{'font-size':t[3],'font-weight':'bold',fill:'#111'},g);
 
 });
[[400,795,400,770,'#2030d0'],[400,795,422,795,'#30c030']].forEach(function(a){var l=mk('line',{x1:a[0],y1:a[1],x2:a[2],y2:a[3],stroke:a[4],'stroke-width':2},g);
 
 });
[[363,445],[560,645]].forEach(function(S,si){
 var x0=S[0];
 var fr=mk('rect',{x:x0+28,y:850,width:100,height:140,fill:'none',stroke:'#ccc','stroke-width':1},g);
 
 
 [[x0+55,885],[x0+110,900],[x0+55,965],[x0+110,960],[x0+30,920],[x0+135,940]].forEach(function(c){var r=mk('rect',{x:c[0]-12,y:c[1]-12,width:24,height:24,fill:'#30b030',stroke:'#1a701a','stroke-width':0.5,transform:'rotate(45 '+c[0]+' '+c[1]+')'},g);
  
  });
 [[x0+85,885],[x0+50,945],[x0+120,930]].forEach(function(c){var r=mk('rect',{x:c[0]-18,y:c[1]-18,width:36,height:36,fill:'#2a7ad0'},g);
  
  });
 var ctr=si?[[x0+55,895],[x0+110,958]]:[[x0+63,897],[x0+117,955]];
 ctr.forEach(function(c){[[0,-35],[35,0],[0,35],[-35,0]].forEach(function(d){var px=c[0]+d[0]*0.75,py=c[1]+d[1]*0.75;
  var p=mk('polygon',{points:px+','+(py-20)+' '+(px+18)+','+py+' '+px+','+(py+20)+' '+(px-18)+','+py,fill:'#f08a8a',stroke:'#c05050','stroke-width':0.6,opacity:0.9},g);
  
  
  var a=mk('circle',{cx:px,cy:py,r:7,fill:'#e02020',opacity:0.85},g);
  
  });
  var k=mk('circle',{cx:c[0],cy:c[1],r:3,fill:'#111a55'},g);
  
  });
 var ax=mk('line',{x1:x0-25,y1:968,x2:x0-8,y2:968,stroke:'#e02020','stroke-width':1.5},g);
 
 
 var ay=mk('line',{x1:x0-25,y1:968,x2:x0-25,y2:950,stroke:'#30c030','stroke-width':1.5},g);
 
 
});
var s1=tx('Space group: ',370,1020,{'font-size':12,'font-weight':'bold',fill:'#111'},g);


var s1b=tx('P4₂/mnm',451,1020,{'font-size':12,'font-weight':'bold','font-style':'italic',fill:'#111'},g);


var s2=tx('Space group: ',587,1020,{'font-size':12,'font-weight':'bold',fill:'#111'},g);


var s2b=tx('Amam',668,1020,{'font-size':12,'font-weight':'bold','font-style':'italic',fill:'#111'},g);


})();
</script>
</body></html>
